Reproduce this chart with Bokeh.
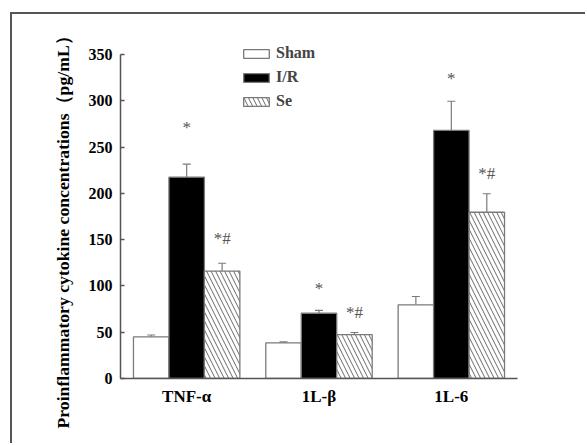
from bokeh.plotting import figure
from bokeh.models import (FactorRange, Range1d, ColumnDataSource, Whisker, TeeHead,
                          LabelSet, FixedTicker, Title)
from bokeh.transform import dodge
from bokeh.core.properties import value
from bokeh.embed import file_html
from bokeh.resources import INLINE

# ---- data ----
cytokines = ["TNF-α", "1L-β", "1L-6"]
groups = ["Sham", "I/R", "Se"]
sham = [45.0, 38.5, 79.6]
sham_err = [2.0, 1.0, 9.0]
ir = [217.5, 70.5, 268.0]
ir_err = [14.0, 3.0, 31.5]
se = [116.0, 47.5, 179.6]
se_err = [8.5, 2.2, 20.0]
ir_sig = ["*", "*", "*"]
ir_sig_y = [271, 97, 324]
se_sig = ["*#", "*#", "*#"]
se_sig_y = [151, 71, 221]
y_ticks = [0, 50, 100, 150, 200, 250, 300, 350]
y_max = 350

SERIF = "Liberation Serif"
W, H = 575, 431
FL, FR, FB = 108, 70, 67          # frame borders (px)
frame_h = H - FB                  # frame reaches the top of the canvas
y_end = y_max * frame_h / 324.0   # 350 sits 324 px above the x axis

p = figure(width=W, height=H, output_backend="svg", toolbar_location=None,
           x_range=FactorRange(factors=cytokines, range_padding=0),
           y_range=Range1d(0, y_end),
           min_border_left=FL, min_border_right=FR, min_border_top=0, min_border_bottom=FB)
p.outline_line_color = None
p.grid.grid_line_color = None
p.background_fill_color = "white"
p.border_fill_color = "white"
p.styles = {"border-top": "2px solid #555555", "border-left": "2px solid #555555",
            "margin-left": "10px", "margin-top": "12px"}

bw = 0.268
offs = [-bw, 0.0, bw]
vals = [sham, ir, se]
errs = [sham_err, ir_err, se_err]
fills = ["white", "black", "white"]
hatches = [None, None, "left_diagonal_line"]
for g, off, v, e, fc, hp in zip(groups, offs, vals, errs, fills, hatches):
    src = ColumnDataSource(dict(x=cytokines, top=v,
                                upper=[a + b for a, b in zip(v, e)]))
    kw = dict(x=dodge("x", off, range=p.x_range), top="top", width=bw, source=src,
              line_color="#7a7a7a", line_width=1.3, fill_color=fc, legend_label=g)
    if hp:
        kw.update(hatch_pattern=hp, hatch_color="#6a6a6a", hatch_scale=9, hatch_weight=1)
    p.vbar(**kw)
    p.add_layout(Whisker(base=dodge("x", off, range=p.x_range), upper="upper", lower="top",
                         source=src, line_color="#7a7a7a", line_width=1.2,
                         upper_head=TeeHead(size=8, line_color="#7a7a7a", line_width=1.2),
                         lower_head=None, level="underlay"))

for off, txt, ys in [(0.0, ir_sig, ir_sig_y), (bw, se_sig, se_sig_y)]:
    s = ColumnDataSource(dict(x=cytokines, y=ys, t=txt))
    p.add_layout(LabelSet(x=dodge("x", off, range=p.x_range), y="y", text="t", source=s,
                          text_align="center", text_baseline="middle",
                          text_font=value(SERIF), text_font_size="17px",
                          text_color="#555555"))

# axes
xa = p.xaxis[0]
xa.axis_line_color = "#555555"
xa.axis_line_width = 1.5
xa.major_tick_line_color = None
xa.minor_tick_line_color = None
xa.major_label_text_font = SERIF
xa.major_label_text_font_style = "bold"
xa.major_label_text_font_size = "17px"
xa.major_label_text_color = "black"
xa.major_label_standoff = 2

ya = p.yaxis[0]
ya.ticker = FixedTicker(ticks=y_ticks)
ya.bounds = (0, y_max)
ya.axis_line_color = "#555555"
ya.axis_line_width = 1.5
ya.major_tick_line_color = "#555555"
ya.major_tick_line_width = 1.5
ya.major_tick_in = 4
ya.major_tick_out = 0
ya.minor_tick_line_color = None
ya.major_label_text_font = SERIF
ya.major_label_text_font_style = "bold"
ya.major_label_text_font_size = "16px"
ya.major_label_text_color = "black"
ya.major_label_standoff = 8

# y-axis title
p.add_layout(Title(text="Proinflammatory cytokine concentrations（pg/mL）",
                   align="left", offset=-50, text_font=SERIF, text_font_style="bold",
                   text_font_size="17.7px", text_color="black", standoff=25), "left")

# legend
lg = p.legend[0]
lg.location = (120, 265)
lg.border_line_color = None
lg.background_fill_alpha = 0
lg.padding = 0
lg.spacing = 0
lg.margin = 0
lg.glyph_width = 32
lg.glyph_height = 11
lg.label_height = 24
lg.label_standoff = 4
lg.label_text_font = SERIF
lg.label_text_font_style = "bold"
lg.label_text_font_size = "16px"

open("out.html", "w").write(file_html(p, INLINE))
